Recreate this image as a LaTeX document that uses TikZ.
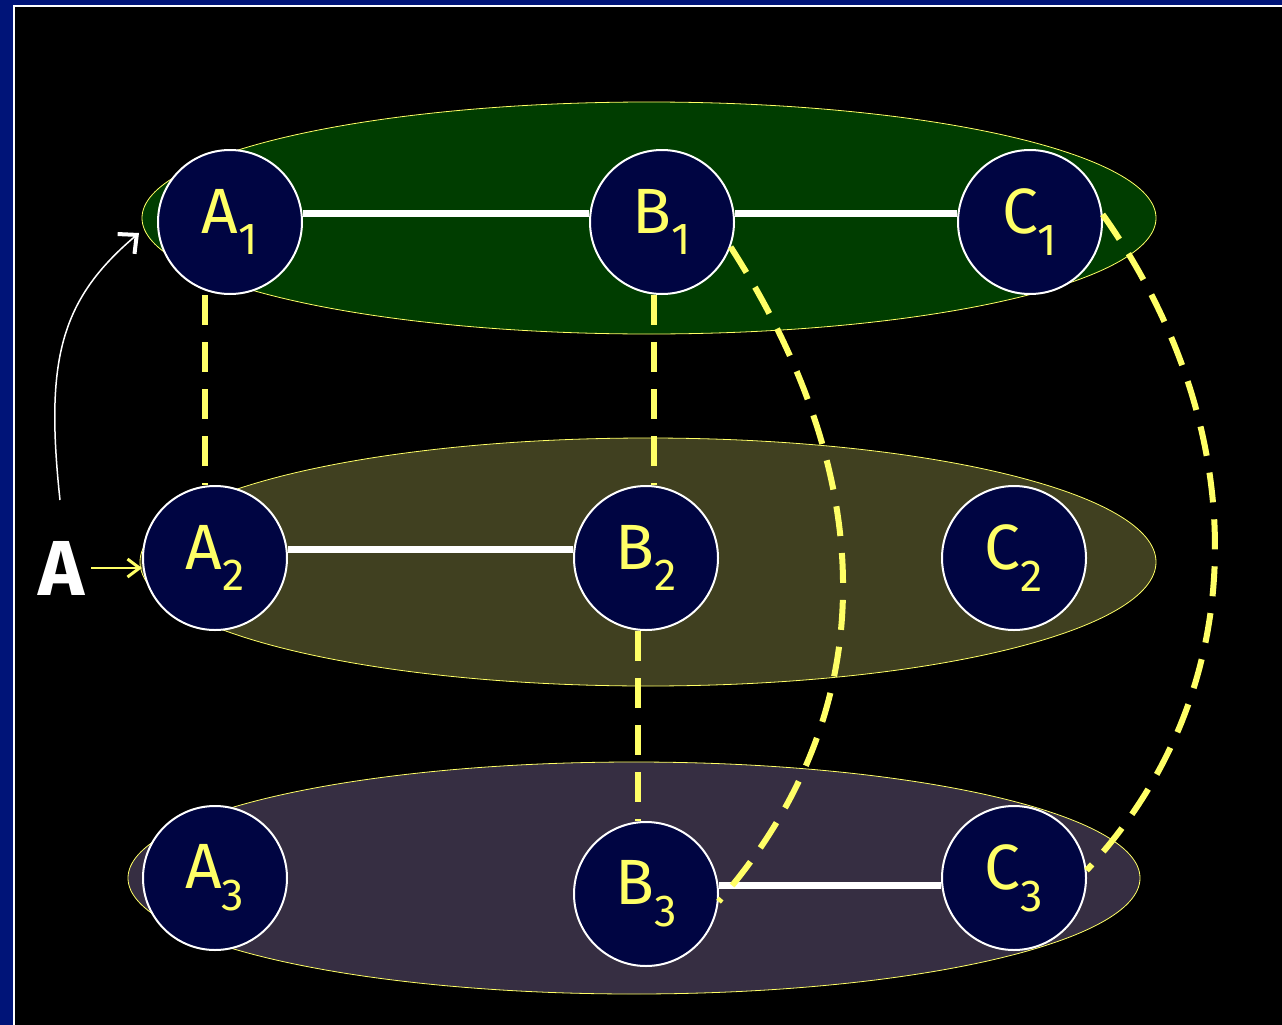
\documentclass[tikz,border=0pt]{standalone}
\usepackage{fontspec}
\setmainfont{Fira Sans}
\usetikzlibrary{arrows.meta}

\definecolor{slidenavy}{RGB}{0,20,120}
\definecolor{ballblue}{RGB}{0,5,66}
\definecolor{lvlgreen}{RGB}{0,61,0}
\definecolor{lvlolive}{RGB}{64,64,32}
\definecolor{lvlplum}{RGB}{54,46,66}
\definecolor{chalk}{RGB}{255,255,102}

\tikzset{
  ball/.style={circle, draw=white, line width=2pt, fill=ballblue, minimum size=144pt,
    inner sep=0pt, text=chalk, font=\fontsize{64}{72}\selectfont},
  level/.style={draw=chalk, line width=0.8pt},
  rung/.style={draw=white, line width=7pt},
  hop/.style={draw=chalk, line width=6pt, dash pattern=on 30pt off 17pt},
}

\begin{document}
\begin{tikzpicture}[x=1pt, y=-1pt]
  % slide frame
  \fill[slidenavy] (0,0) rectangle (1282,1025);
  \fill[white] (13,5) rectangle (1282,1025);
  \fill[black] (15,7) rectangle (1282,1025);
  % the three levels
  \filldraw[level, fill=lvlgreen] (649,218) ellipse [x radius=507, y radius=116];
  \filldraw[level, fill=lvlolive] (648,562) ellipse [x radius=508, y radius=124];
  \filldraw[level, fill=lvlplum] (634,878) ellipse [x radius=506, y radius=116];
  % states
  \node[ball] (A1) at (230,222) {A\textsubscript{1}};
  \node[ball] (B1) at (662,222) {B\textsubscript{1}};
  \node[ball] (C1) at (1030,222) {C\textsubscript{1}};
  \node[ball] (A2) at (215,558) {A\textsubscript{2}};
  \node[ball] (B2) at (646,558) {B\textsubscript{2}};
  \node[ball] (C2) at (1014,558) {C\textsubscript{2}};
  \node[ball] (A3) at (215,878) {A\textsubscript{3}};
  \node[ball] (B3) at (646,894) {B\textsubscript{3}};
  \node[ball] (C3) at (1014,878) {C\textsubscript{3}};
  % edges inside a level
  \draw[rung] ([yshift=9pt]A1.east) -- ([yshift=9pt]B1.west);
  \draw[rung] ([yshift=9pt]B1.east) -- ([yshift=9pt]C1.west);
  \draw[rung] ([yshift=9pt]A2.east) -- ([yshift=9pt]B2.west);
  \draw[rung] ([yshift=9pt]B3.east) -- ([yshift=-7pt]C3.west);
  % edges between levels
  \draw[hop] ([xshift=-25pt]A1.south) -- ([xshift=-10pt]A2.north);
  \draw[hop] ([xshift=-8pt]B1.south) -- ([xshift=8pt]B2.north);
  \draw[hop] ([xshift=-8pt]B2.south) -- ([xshift=-8pt]B3.north);
  \draw[hop] (B1.-20) .. controls (880,480) and (885,711) .. (B3.-6);
  \draw[hop] (C1.6) .. controls (1255,430) and (1255,690) .. (C3.6);
  % entry point
  \node[text=white, inner sep=6pt, font=\fontsize{78}{80}\selectfont\bfseries] (seed) at (62,568) {A};
  \draw[chalk, line width=2pt, -{Straight Barb[length=12pt, width=18pt, line width=3pt]}]
    (seed.east) -- (seed.east -| A2.west);
  \coordinate (tail) at (60,500);
  \draw[white, line width=1.5pt, -{Straight Barb[length=14pt, width=26pt, line width=4pt]}]
    (tail) .. controls (45,360) and (60,300) .. ([shift={(-18pt,-11pt)}]A1.west);
\end{tikzpicture}
\end{document}
